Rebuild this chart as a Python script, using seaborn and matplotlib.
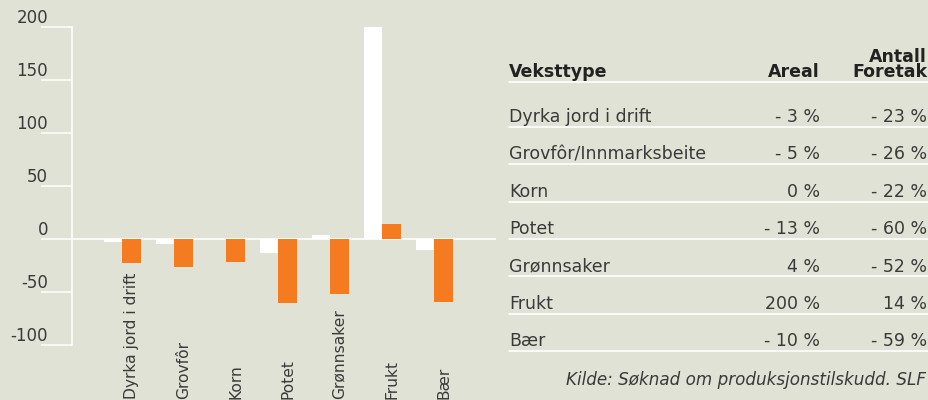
import numpy as np
import pandas as pd
import matplotlib
matplotlib.use("Agg")
import matplotlib.pyplot as plt
import seaborn as sns
from matplotlib.lines import Line2D

# ---- data ----
categories = ["Dyrka jord i drift", "Grovfôr", "Korn", "Potet", "Grønnsaker", "Frukt", "Bær"]
areal = [-3, -5, 0, -13, 4, 200, -10]
foretak = [-23, -26, -22, -60, -52, 14, -59]
series_names = ["Areal", "Antall foretak"]
yticks = [-100, -50, 0, 50, 100, 150, 200]

table_rows = ["Dyrka jord i drift", "Grovfôr/Innmarksbeite", "Korn", "Potet",
              "Grønnsaker", "Frukt", "Bær"]
table_areal = ["- 3 %", "- 5 %", "0 %", "- 13 %", "4 %", "200 %", "- 10 %"]
table_foretak = ["- 23 %", "- 26 %", "- 22 %", "- 60 %", "- 52 %", "14 %", "- 59 %"]
source = "Kilde: Søknad om produksjonstilskudd. SLF"

BG = "#dfe2d4"
ORANGE = "#f47b20"
TXT = "#3a3a3a"
HEAD = "#222222"

sns.set_theme(style="white")
plt.rcParams["font.family"] = ["DejaVu Sans"]

W, H = 929, 400
fig = plt.figure(figsize=(W / 100, H / 100), dpi=100, facecolor=BG)
ax = fig.add_axes([72 / W, 55 / H, 424 / W, 318 / H])
ax.set_facecolor(BG)

df = pd.DataFrame({
    "Veksttype": categories * 2,
    "Endring": areal + foretak,
    "Serie": [series_names[0]] * len(categories) + [series_names[1]] * len(categories),
})
ax.axhline(0, color="white", lw=1.2, zorder=0.5)
sns.barplot(data=df, x="Veksttype", y="Endring", hue="Serie", order=categories,
            hue_order=series_names, palette=["white", ORANGE], width=0.73,
            saturation=1, legend=False, ax=ax, linewidth=0, errorbar=None)

ax.set_xlim(-0.971, 7.183)
ax.set_ylim(-100, 200)
ax.set_xlabel("")
ax.set_ylabel("")
for s in ["top", "right", "bottom"]:
    ax.spines[s].set_visible(False)
ax.spines["left"].set_color("white")
ax.spines["left"].set_linewidth(1.2)

ax.set_yticks(yticks, labels=[str(v) for v in yticks])
ax.tick_params(axis="y", left=True, length=31 * 0.72, width=1.1, color="white",
               pad=-5, labelsize=12, labelcolor=TXT)
for lab in ax.get_yticklabels():
    lab.set_va("bottom")

ax.set_xticks(np.arange(len(categories)) + 0.175, labels=categories)
ax.tick_params(axis="x", bottom=False, length=0, pad=39, labelsize=11.2,
               labelcolor=TXT, labelrotation=90)
for lab in ax.get_xticklabels():
    lab.set_va("bottom")


def px(x, y):
    return x / W, 1 - y / H


def hline(y, x0=509, x1=W):
    fig.add_artist(Line2D([x0 / W, x1 / W], [1 - y / H] * 2, color="white",
                          lw=1.2, transform=fig.transFigure))


FS = 12.5
fig.text(*px(509, 77), "Veksttype", fontsize=FS, fontweight="bold", color=HEAD,
         ha="left", va="baseline")
fig.text(*px(820, 77), "Areal", fontsize=FS, fontweight="bold", color=HEAD,
         ha="right", va="baseline")
fig.text(*px(927, 77), "Antall\nForetak", fontsize=FS, fontweight="bold", color=HEAD,
         ha="right", va="baseline", multialignment="right", linespacing=0.78)
hline(82)

for i, (name, a, f) in enumerate(zip(table_rows, table_areal, table_foretak)):
    yb = 122 + 37.4 * i
    fig.text(*px(509, yb), name, fontsize=FS, color=TXT, ha="left", va="baseline")
    fig.text(*px(820, yb), a, fontsize=FS, color=TXT, ha="right", va="baseline")
    fig.text(*px(927, yb), f, fontsize=FS, color=TXT, ha="right", va="baseline")
    hline(126.7 + 37.4 * i)

fig.text(*px(926, 385), source, fontsize=12.1, style="italic", color=TXT,
         ha="right", va="baseline")

fig.savefig("out.png", dpi=100, facecolor=BG)
